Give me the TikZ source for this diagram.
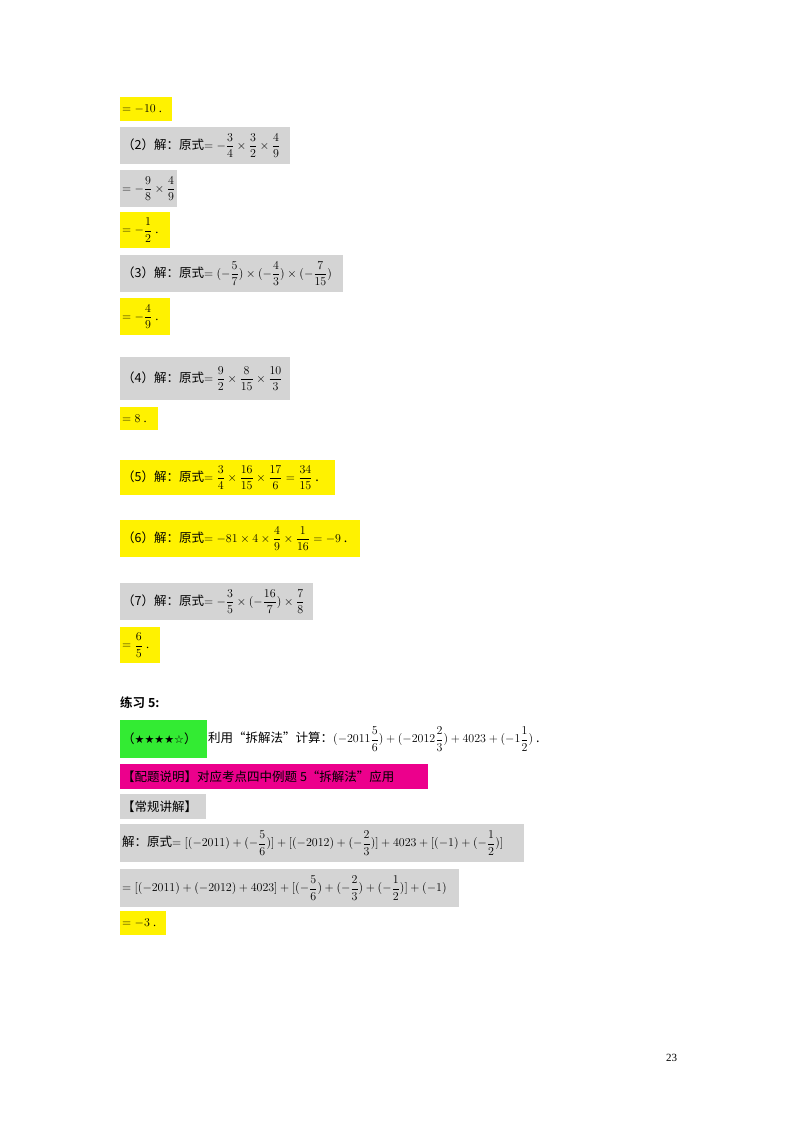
\documentclass[tikz,border=0pt]{standalone}
\usepackage{amsmath}
\usepackage{fontspec}
\setmainfont{Liberation Serif}
\newfontfamily\cjk{Noto Sans CJK SC}
\newfontfamily\cjkb{Noto Sans CJK SC}[BoldFont={* Bold}]
\newfontfamily\djv{DejaVu Sans}
\begin{document}
\begin{tikzpicture}[x=1pt,y=-1pt,
  txt/.style={anchor=west,inner sep=0pt,font=\fontsize{12.5}{14}\selectfont},
  yel/.style={fill=yellow},gry/.style={fill=black!17},mag/.style={fill=magenta}]
\useasboundingbox (0,0) rectangle (800,1132);
\newcommand\hl[6]{\fill[#1] (120,#2) rectangle (#3,#4); \node[txt] (#5) at (122,{(#2+#4)/2}) {#6};}
\newcommand\df[2]{\dfrac{#1}{#2}}
\hl{yel}{97}{172}{121}{a}{$=-10$ .}
\hl{gry}{127}{290}{164}{b}{\cjk（2）解：原式$=-\df34\times\df32\times\df49$}
\hl{gry}{170}{177}{207}{c}{$=-\df98\times\df49$}
\hl{yel}{212}{170}{248}{d}{$=-\df12$ .}
\hl{gry}{255}{343}{292}{e}{\cjk（3）解：原式$=(-\df57)\times(-\df43)\times(-\df7{15})$}
\hl{yel}{298}{170}{335}{f}{$=-\df49$ .}
\hl{gry}{357}{290}{400}{g}{\cjk（4）解：原式$=\df92\times\df8{15}\times\df{10}3$}
\hl{yel}{407}{158}{430}{h}{$=8$ .}
\hl{yel}{460}{335}{495}{i}{\cjk（5）解：原式$=\df34\times\df{16}{15}\times\df{17}6=\df{34}{15}$ .}
\hl{yel}{520}{360}{557}{j}{\cjk（6）解：原式$=-81\times4\times\df49\times\df1{16}=-9$ .}
\hl{gry}{583}{313}{620}{k}{\cjk（7）解：原式$=-\df35\times(-\df{16}7)\times\df78$}
\hl{yel}{627}{160}{663}{l}{$=\df65$ .}
\node[txt] (m) at (120,703) {\cjkb\bfseries 练习 5:};
\fill[green!90!black!80] (120,720) rectangle (207,758);
\node[txt] (n) at (122,739) {\cjk（{\djv\fontsize{11}{12}\selectfont★★★★☆}）};
\node[txt] (o) at (208,739) {\cjk 利用“拆解法”计算：$(-2011\df56)+(-2012\df23)+4023+(-1\df12)$ .};
\hl{mag}{764}{428}{789}{p}{\cjk【配题说明】对应考点四中例题 5“拆解法”应用}
\hl{gry}{794}{206}{819}{q}{\cjk【常规讲解】}
\hl{gry}{824}{524}{862}{r}{\cjk 解：原式$=[(-2011)+(-\df56)]+[(-2012)+(-\df23)]+4023+[(-1)+(-\df12)]$}
\hl{gry}{869}{459}{907}{s}{$=[(-2011)+(-2012)+4023]+[(-\df56)+(-\df23)+(-\df12)]+(-1)$}
\hl{yel}{911}{166}{935}{t}{$=-3$ .}
\node[txt,font=\fontsize{11}{12}\selectfont] (u) at (666,1058) {23};
\end{tikzpicture}
\end{document}
